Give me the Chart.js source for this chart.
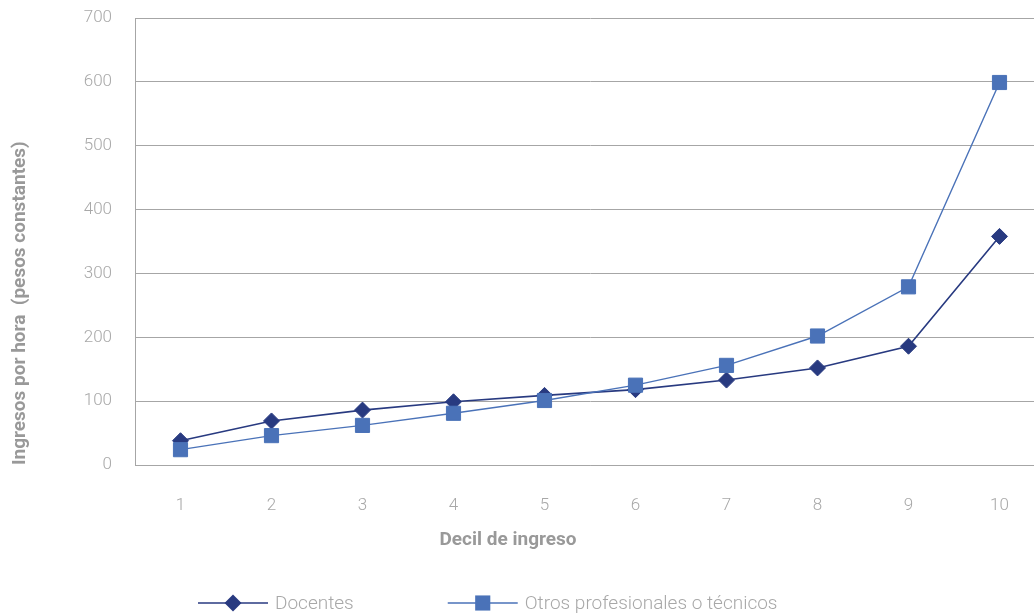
<!DOCTYPE html>
<html>
<head>
<meta charset="utf-8">
<script src="https://cdn.jsdelivr.net/npm/chart.js@4/dist/chart.umd.min.js"></script>
<style>
  html, body { margin: 0; padding: 0; background: #fff; overflow: hidden; }
  #wrap { width: 1034px; height: 613px; overflow: hidden; position: relative; }
  canvas { position: absolute; left: 0; top: 0; }
</style>
</head>
<body>
<div id="wrap"><canvas id="c" width="1056" height="613"></canvas></div>
<script>
// Income deciles
const deciles = ['1', '2', '3', '4', '5', '6', '7', '8', '9', '10'];
// Hourly income (constant pesos)
const docentes = [38, 69, 86, 99, 109, 118, 133, 152, 186, 358];
const otrosProfesionales = [24, 46, 62, 81, 101, 125, 156, 202, 279, 599];
const seriesNames = ['Docentes', 'Otros profesionales o técnicos'];
const yTicks = [0, 100, 200, 300, 400, 500, 600, 700];
const xTitle = 'Decil de ingreso';
const yTitle = 'Ingresos por hora  (pesos constantes)';

const tickColor = '#a8a8a8';
const titleColor = '#999999';
const gridColor = '#a6a6a6';
const fontFamily = 'Roboto, "DejaVu Sans", sans-serif';

// X-axis caption and a legend drawn as a short line with the series marker in the middle
const captionAndLegend = {
  id: 'captionAndLegend',
  afterDraw(chart) {
    const ctx = chart.ctx;
    ctx.save();
    ctx.font = 'bold 19px ' + fontFamily;
    ctx.fillStyle = titleColor;
    ctx.textAlign = 'center';
    ctx.textBaseline = 'middle';
    ctx.fillText(xTitle, 508, 540);

    const y = 603;
    let x = 198;
    ctx.font = '300 19px ' + fontFamily;
    ctx.textAlign = 'left';
    chart.data.datasets.forEach((ds) => {
      const lineLen = 70;
      ctx.strokeStyle = ds.borderColor;
      ctx.lineWidth = 1.5;
      ctx.beginPath();
      ctx.moveTo(x, y);
      ctx.lineTo(x + lineLen, y);
      ctx.stroke();
      const mx = x + lineLen / 2;
      ctx.fillStyle = ds.pointBackgroundColor;
      ctx.beginPath();
      if (ds.pointStyle === 'rectRot') {
        const r = ds.pointRadius + 0.5;
        ctx.moveTo(mx - r, y); ctx.lineTo(mx, y - r); ctx.lineTo(mx + r, y); ctx.lineTo(mx, y + r);
      } else {
        const s = Math.SQRT1_2 * ds.pointRadius + 0.5;
        ctx.rect(mx - s, y - s, 2 * s, 2 * s);
      }
      ctx.closePath();
      ctx.fill();
      ctx.fillStyle = tickColor;
      ctx.fillText(ds.label, x + lineLen + 7, y + 1);
      x += lineLen + 7 + ctx.measureText(ds.label).width + 94;
    });
    ctx.restore();
  }
};

new Chart(document.getElementById('c'), {
  type: 'line',
  data: {
    labels: deciles,
    datasets: [
      {
        label: seriesNames[0],
        data: docentes,
        borderColor: '#283a80',
        backgroundColor: '#283a80',
        pointBackgroundColor: '#283a80',
        pointBorderColor: '#283a80',
        pointStyle: 'rectRot',
        pointRadius: 8,
        pointBorderWidth: 1,
        borderWidth: 1.6,
        tension: 0,
        order: 1
      },
      {
        label: seriesNames[1],
        data: otrosProfesionales,
        borderColor: '#4a72b8',
        backgroundColor: '#4a72b8',
        pointBackgroundColor: '#4a72b8',
        pointBorderColor: '#4a72b8',
        pointStyle: 'rect',
        pointRadius: 10,
        pointBorderWidth: 1,
        borderWidth: 1.4,
        tension: 0,
        order: 0
      }
    ]
  },
  options: {
    responsive: false,
    animation: false,
    layout: { padding: { top: 18, right: 0, bottom: 53, left: 0 } },
    plugins: {
      legend: { display: false },
      tooltip: { enabled: false }
    },
    scales: {
      x: {
        offset: true,
        grid: { display: false, drawTicks: false, offset: true },
        border: { display: true, color: gridColor, width: 1 },
        ticks: { color: tickColor, font: { family: fontFamily, size: 17, weight: '300' }, padding: 31 },
        afterFit(scale) {
          scale.height = 95;
          scale.paddingLeft = 0;
          scale.paddingRight = 0;
        }
      },
      y: {
        min: 0,
        max: 700,
        afterBuildTicks(scale) { scale.ticks = yTicks.map(v => ({ value: v })); },
        grid: { color: gridColor, lineWidth: 1, drawTicks: false },
        border: { display: true, color: gridColor, width: 1 },
        ticks: { color: tickColor, font: { family: fontFamily, size: 17, weight: '300' }, padding: 23 },
        title: {
          display: true,
          text: yTitle,
          align: 'start',
          color: titleColor,
          font: { family: fontFamily, size: 19, weight: 'bold' },
          padding: { top: 9, bottom: 0 }
        },
        afterFit(scale) {
          scale.width = 135;
          scale.paddingTop = 0;
          scale.paddingBottom = 0;
        }
      }
    }
  },
  plugins: [captionAndLegend]
});
</script>
</body>
</html>
